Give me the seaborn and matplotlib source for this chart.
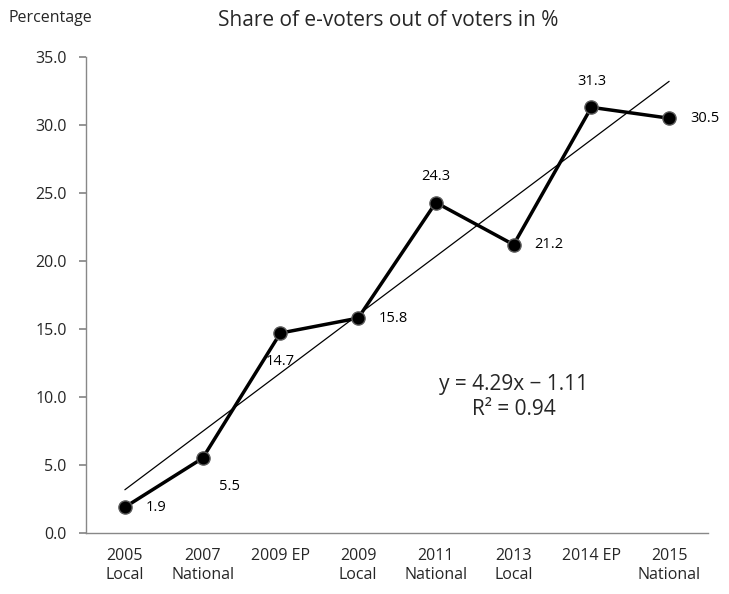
import matplotlib
matplotlib.use("Agg")
import matplotlib.pyplot as plt
import seaborn as sns
import numpy as np
import pandas as pd

# Elections and share of e-voters (%)
categories = ["2005\nLocal", "2007\nNational", "2009 EP", "2009\nLocal",
              "2011\nNational", "2013\nLocal", "2014 EP", "2015\nNational"]
shares = [1.9, 5.5, 14.7, 15.8, 24.3, 21.2, 31.3, 30.5]
trend_slope = 4.29
trend_intercept = -1.11
r_squared = 0.94
y_ticks = [0, 5, 10, 15, 20, 25, 30, 35]

sns.set_theme(style="white")
plt.rcParams["font.family"] = ["Open Sans", "DejaVu Sans"]

df = pd.DataFrame({"pos": np.arange(1, len(categories) + 1), "share": shares})

fig = plt.figure(figsize=(7.29, 5.94), dpi=100)
ax = fig.add_axes([86 / 729, 1 - 533 / 594, (708 - 86) / 729, (533 - 57) / 594])

# linear trend line
tx = np.array([df["pos"].min(), df["pos"].max()], dtype=float)
ax.plot(tx, trend_slope * tx + trend_intercept, color="black", lw=0.9, zorder=2)

sns.lineplot(data=df, x="pos", y="share", ax=ax, color="black", lw=2.5,
             marker="o", markersize=9.5, markeredgecolor="#5a5a5a",
             markeredgewidth=1.0, zorder=3)

# data labels
offsets = {0: (15, 0, "left", "center"), 1: (12, -15, "left", "top"),
           2: (0, -15, "center", "top"), 3: (15, 0, "left", "center"),
           4: (0, 13, "center", "bottom"), 5: (15, 0, "left", "center"),
           6: (0, 13, "center", "bottom"), 7: (15, 0, "left", "center")}
for i, (p, v) in enumerate(zip(df["pos"], shares)):
    dx, dy, ha, va = offsets[i]
    ax.annotate(f"{v:.1f}", (p, v), xytext=(dx, dy), textcoords="offset points",
                ha=ha, va=va, fontsize=10.5, color="black")

ax.set_xlim(0.5, len(categories) + 0.5)
ax.set_ylim(0, 35)
ax.set_yticks(y_ticks)
ax.set_yticklabels([f"{t:.1f}" for t in y_ticks], fontsize=11.5)
ax.set_xticks(df["pos"])
ax.set_xticklabels(categories, fontsize=11.5, va="top", linespacing=1.25)
ax.set_xticks(np.arange(0.5, len(categories) + 1.0, 1.0), minor=True)
ax.tick_params(axis="x", which="major", length=0, pad=11)
ax.tick_params(axis="x", which="minor", length=5, color="#888888", direction="out")
ax.tick_params(axis="y", length=5, color="#888888", direction="out", left=True, pad=9)
ax.set_xlabel("")
ax.set_ylabel("")

for side in ["top", "right"]:
    ax.spines[side].set_visible(False)
for side in ["left", "bottom"]:
    ax.spines[side].set_color("#888888")
    ax.spines[side].set_linewidth(1.0)

fig.text(8 / 729, 1 - 18 / 594, "Percentage", fontsize=11.5, ha="left", va="center")
fig.text(388 / 729, 1 - 21 / 594, "Share of e-voters out of voters in %",
         fontsize=15, ha="center", va="center")
ax.text(6.0, 10.0, f"y = {trend_slope:.2f}x \u2212 {abs(trend_intercept):.2f}\nR\u00b2 = {r_squared:.2f}",
        fontsize=15, ha="center", va="center", linespacing=1.3)

fig.savefig("out.png", dpi=100)
